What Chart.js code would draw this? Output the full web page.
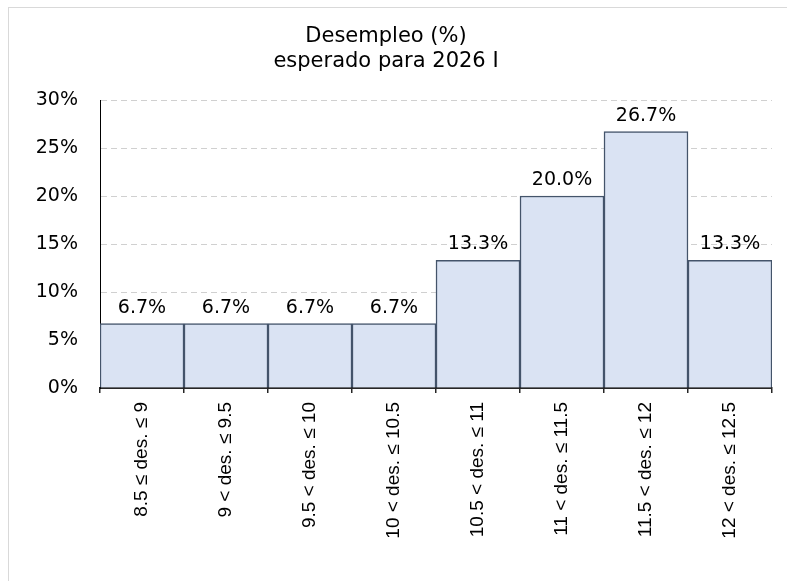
<!DOCTYPE html>
<html>
<head>
<meta charset="utf-8">
<script src="https://cdn.jsdelivr.net/npm/chart.js@4"></script>
<style>
  html, body { margin: 0; padding: 0; background: #fff; overflow: hidden; }
  #marco { position: absolute; left: 8px; top: 7px; width: 900px; height: 700px; border: 1px solid #d9d9d9; }
  #caja { position: absolute; left: 0; top: 0; width: 787px; height: 581px; }
</style>
</head>
<body>
<div id="marco"></div>
<div id="caja"><canvas id="desempleo-chart" width="787" height="581"></canvas></div>
<script>
var rangos = ['8.5 ≤ des. ≤ 9', '9 < des. ≤ 9.5', '9.5 < des. ≤ 10', '10 < des. ≤ 10.5',
              '10.5 < des. ≤ 11', '11 < des. ≤ 11.5', '11.5 < des. ≤ 12', '12 < des. ≤ 12.5'];
var porcentajes = [6.7, 6.7, 6.7, 6.7, 13.3, 20.0, 26.7, 13.3];
var ticksY = [0, 5, 10, 15, 20, 25, 30];

var fuenteAncha = 'DejaVu Sans';
var fuenteEje = 'Liberation Sans';

// etiquetas de valor encima de cada barra
var etiquetasBarras = {
    id: 'etiquetasBarras',
    afterDatasetsDraw: function (chart) {
        var ctx = chart.ctx;
        var meta = chart.getDatasetMeta(0);
        ctx.save();
        ctx.font = '19px "' + fuenteAncha + '"';
        ctx.fillStyle = '#000';
        ctx.textAlign = 'center';
        ctx.textBaseline = 'alphabetic';
        meta.data.forEach(function (barra, i) {
            ctx.fillText(porcentajes[i].toFixed(1) + '%', barra.x, barra.y - 11);
        });
        ctx.restore();
    }
};

var desempleo = document.getElementById('desempleo-chart');

var desempleoChart = new Chart(desempleo, {
    type: 'bar',
    data: {
        labels: rangos,
        datasets: [{
            data: porcentajes,
            backgroundColor: 'rgb(218, 227, 243)',
            borderColor: '#44546a',
            borderWidth: 1.5,
            barPercentage: 1,
            categoryPercentage: 1
        }]
    },
    plugins: [etiquetasBarras],
    options: {
        responsive: false,
        animation: false,
        layout: {
            padding: { top: 10, left: 0, right: 15, bottom: 10 }
        },
        plugins: {
            legend: { display: false },
            tooltip: { enabled: false },
            title: {
                display: true,
                text: ['Desempleo (%)', 'esperado para 2026 I'],
                color: '#000',
                font: { family: fuenteAncha, size: 21, weight: 'normal', lineHeight: 1.2 },
                padding: { top: 14, bottom: 25.6 }
            }
        },
        scales: {
            x: {
                grid: {
                    offset: true,
                    drawOnChartArea: false,
                    drawTicks: true,
                    tickLength: 5,
                    color: '#262626',
                    lineWidth: 1.5
                },
                border: { color: '#262626', width: 2 },
                ticks: {
                    autoSkip: false,
                    maxRotation: 90,
                    minRotation: 90,
                    padding: 9,
                    color: '#000',
                    font: { family: fuenteEje, size: 19 }
                },
                afterFit: function (escala) { escala.height = 183; }
            },
            y: {
                min: 0,
                max: 30,
                afterBuildTicks: function (escala) {
                    escala.ticks = ticksY.map(function (v) { return { value: v }; });
                },
                grid: {
                    drawTicks: false,
                    color: '#d0d0d0',
                    lineWidth: 1
                },
                // dash se aplica a las líneas de la rejilla
                border: { color: '#000', width: 1, dash: [6, 4] },
                ticks: {
                    padding: 22,
                    color: '#000',
                    font: { family: fuenteAncha, size: 19 },
                    callback: function (v) { return v + '%'; }
                },
                afterFit: function (escala) { escala.width = 100; }
            }
        }
    }
});
</script>
</body>
</html>
